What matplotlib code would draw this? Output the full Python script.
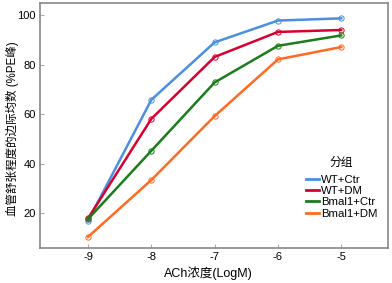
import matplotlib
matplotlib.use("Agg")
import matplotlib.pyplot as plt
from matplotlib.lines import Line2D

x = [-9, -8, -7, -6, -5]
groups = ["WT+Ctr", "WT+DM", "Bmal1+Ctr", "Bmal1+DM"]
wt_ctr = [17.0, 65.9, 89.1, 97.9, 98.8]
wt_dm = [18.0, 58.2, 83.2, 93.3, 94.1]
bmal_ctr = [17.7, 45.3, 72.9, 87.7, 91.9]
bmal_dm = [10.5, 33.5, 59.3, 82.2, 87.2]
colors = ["#4a8fe0", "#d9002f", "#1a7d1a", "#ff6a1f"]
xticks = [-9, -8, -7, -6, -5]
yticks = [20, 40, 60, 80, 100]

fam = ['Liberation Sans', 'Noto Sans CJK SC']
plt.rcParams['font.family'] = fam
fig = plt.figure(figsize=(3.92, 2.83), dpi=100)
ax = fig.add_axes([40/392, 1-248/283, (388-40)/392, (248-3)/283])

for vals, c, name in zip([wt_ctr, wt_dm, bmal_ctr, bmal_dm], colors, groups):
    ax.plot(x, vals, color=c, lw=1.8, marker='o', ms=3.8, mfc='none', mec=c, mew=0.7)

ax.set_xlim(-9.76, -4.26)
ax.set_ylim(6, 105)
ax.set_xticks(xticks)
ax.set_xticklabels([str(v) for v in xticks])
ax.set_yticks(yticks)
ax.tick_params(direction='in', length=3, color='#aaaaaa', labelsize=8, pad=3)
for s in ax.spines.values():
    s.set_color('#888888')
    s.set_linewidth(1.2)

ax.set_xlabel('ACh浓度(LogM)', fontsize=9)
ax.set_ylabel('血管舒张程度的边际均数 (%PE峰)', fontsize=8.3)
ax.xaxis.set_label_coords((208-40)/348, (248-273)/245)
ax.yaxis.set_label_coords((12-40)/348, (248-129)/245)
ax.xaxis.label.set_va('center')
ax.yaxis.label.set_va('center')

handles = [Line2D([], [], color=c, lw=2) for c in colors]
leg = ax.legend(handles, groups, title='分组', loc='upper left',
                bbox_to_anchor=((306-40)/348, 1-(156-3)/245),
                frameon=False, fontsize=8.2, handlelength=1.1, handletextpad=0.2,
                labelspacing=0.12, borderpad=0, borderaxespad=0)
leg.get_title().set_fontsize(8.5)
leg.get_title().set_family(['Noto Sans CJK SC'])
leg._legend_box.sep = 4

fig.savefig('out.png', dpi=100, facecolor='white')
